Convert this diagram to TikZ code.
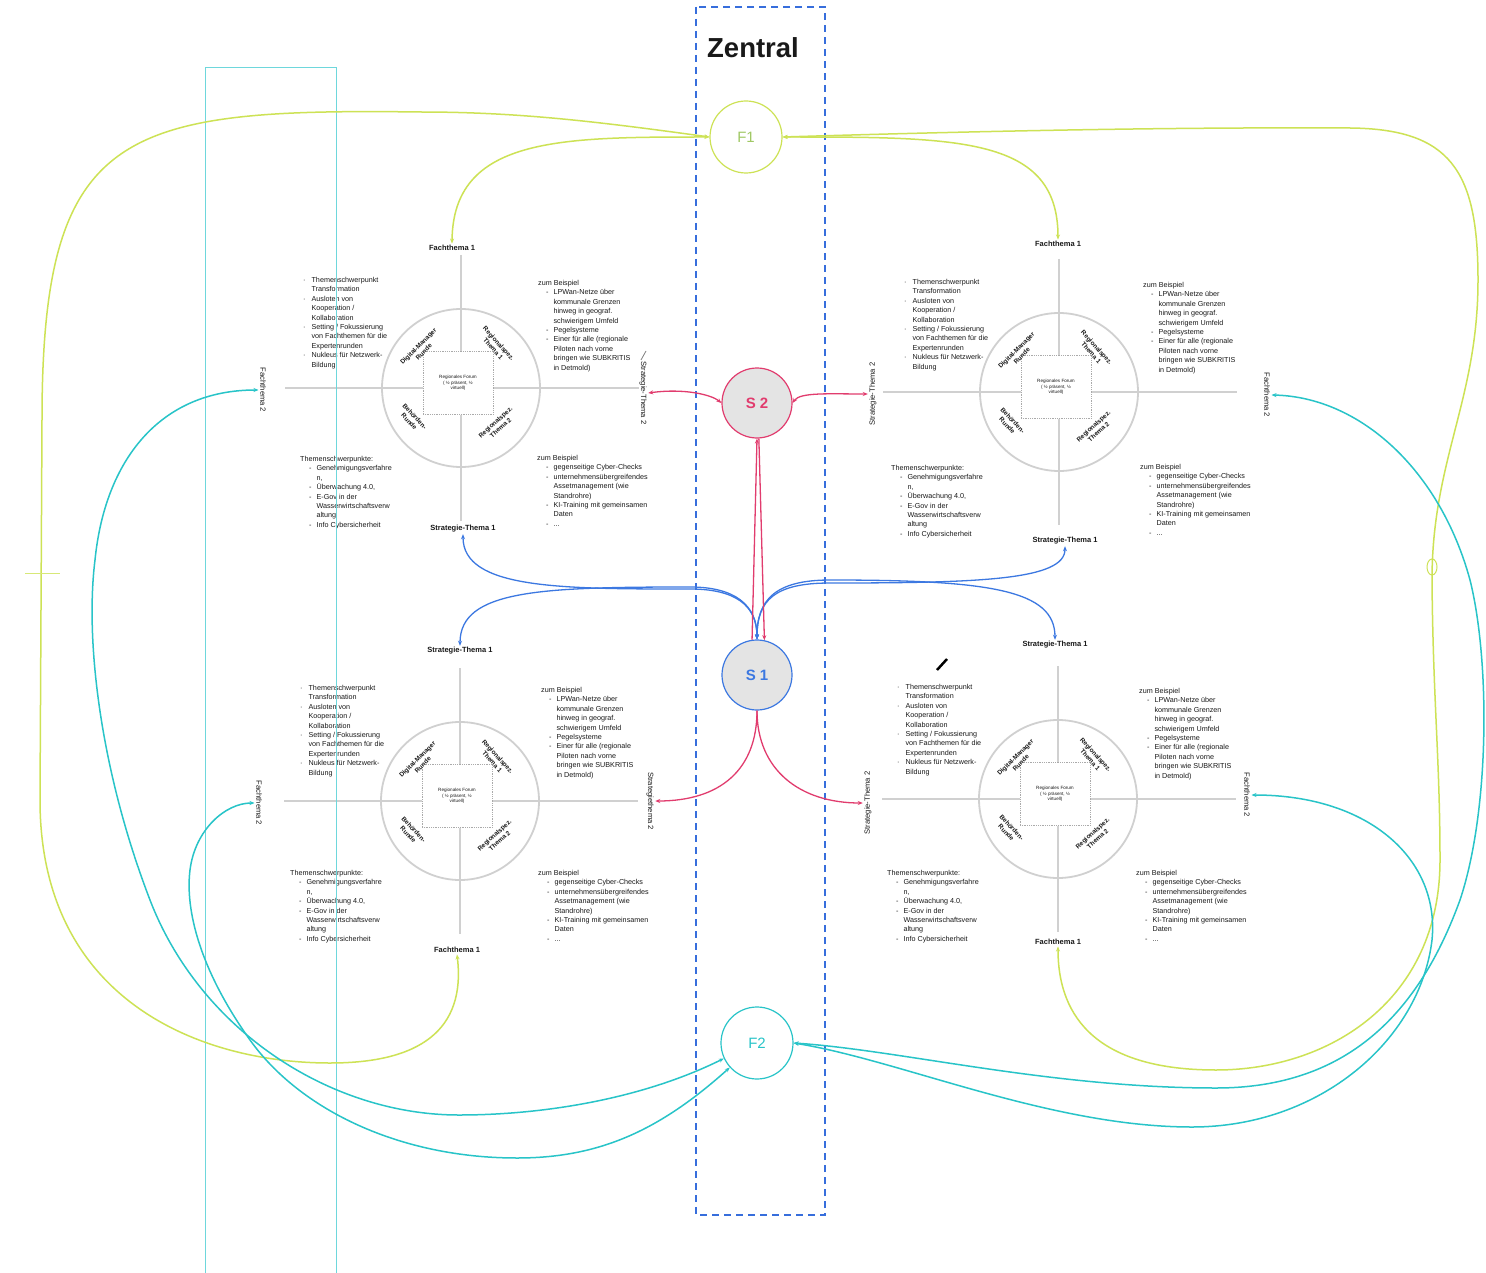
\documentclass[tikz,border=0pt]{standalone}
\usepackage{fontspec}
\setmainfont{Liberation Sans}
\usetikzlibrary{arrows.meta}
\definecolor{ygreen}{RGB}{205,226,85}
\definecolor{fonegreen}{RGB}{160,200,100}
\definecolor{cyanc}{RGB}{40,196,200}
\definecolor{cyanlight}{RGB}{110,215,220}
\definecolor{bluec}{RGB}{60,120,225}
\definecolor{pinkc}{RGB}{225,60,110}
\definecolor{axisgray}{RGB}{208,208,208}
\definecolor{boxgray}{RGB}{170,170,170}
\definecolor{sfill}{RGB}{228,228,228}
\definecolor{zentralblue}{RGB}{55,110,220}
\definecolor{txtc}{RGB}{25,25,25}

\newcommand\blockA{\begin{tabular}[t]{@{}l@{\hspace{6pt}}l@{}}
· & Themenschwerpunkt\\
 & Transformation\\
· & Ausloten von\\
 & Kooperation /\\
 & Kollaboration\\
· & Setting / Fokussierung\\
 & von Fachthemen für die\\
 & Expertenrunden\\
· & Nukleus für Netzwerk-\\
 & Bildung
\end{tabular}}
\newcommand\blockB{\begin{tabular}[t]{@{\hspace{8pt}}l@{\hspace{5pt}}l@{}}
\multicolumn{2}{@{}l@{}}{zum Beispiel}\\
- & LPWan-Netze über\\
 & kommunale Grenzen\\
 & hinweg in geograf.\\
 & schwierigem Umfeld\\
- & Pegelsysteme\\
- & Einer für alle (regionale\\
 & Piloten nach vorne\\
 & bringen wie SUBKRITIS\\
 & in Detmold)
\end{tabular}}
\newcommand\blockC{\begin{tabular}[t]{@{\hspace{9pt}}l@{\hspace{5pt}}l@{}}
\multicolumn{2}{@{}l@{}}{Themenschwerpunkte:}\\
- & Genehmigungsverfahre\\
 & n,\\
- & Überwachung 4.0,\\
- & E-Gov in der\\
 & Wasserwirtschaftsverw\\
 & altung\\
- & Info Cybersicherheit
\end{tabular}}
\newcommand\blockD{\begin{tabular}[t]{@{\hspace{9pt}}l@{\hspace{5pt}}l@{}}
\multicolumn{2}{@{}l@{}}{zum Beispiel}\\
- & gegenseitige Cyber-Checks\\
- & unternehmensübergreifendes\\
 & Assetmanagement (wie\\
 & Standrohre)\\
- & KI-Training mit gemeinsamen\\
 & Daten\\
- & ...
\end{tabular}}

\newcommand\quadrantbox[3]{%
\begin{scope}[shift={(#2,#3)}]
 \draw[axisline] (0,-133) -- (0,-37);
 \draw[axisline] (0,27) -- (0,133);
 \draw[axisline] (-176,0) -- (-38,0);
 \draw[axisline] (32,0) -- (178,0);
 \node[ringstyle] (#1-ring) at (0,0) {};
 \node[forumstyle] (#1-forum) at (-3,-5) {Regionales Forum\\( ½ präsent, ½\\virtuell)};
 \node[innerlbl,rotate=45] (#1-dm) at (-40,-39) {Digital-Manager\\Runde};
 \node[innerlbl,rotate=-48] (#1-rt1) at (35,-42) {Regionalspez.\\Thema 1};
 \node[innerlbl,rotate=-47] (#1-beh) at (-49,31) {Behörden-\\Runde};
 \node[innerlbl,rotate=42] (#1-rt2) at (37,37) {Regionalspez.\\Thema 2};
\end{scope}}

\tikzset{
 axisline/.style={draw=axisgray, line width=2pt},
 ringstyle/.style={circle, draw=axisgray, line width=1.8pt, minimum size=158pt, inner sep=0pt},
 forumstyle/.style={draw=boxgray, densely dotted, line width=0.8pt, minimum width=70pt, minimum height=63pt, align=center, font=\fontsize{4.6}{5.7}\selectfont, text=txtc, inner sep=1pt},
 innerlbl/.style={align=center, font=\bfseries\fontsize{6.4}{7.6}\selectfont, text=txtc, inner sep=0pt},
 lbl/.style={font=\bfseries\fontsize{7.5}{8.5}\selectfont, text=txtc, inner sep=1.5pt},
 rlbl/.style={font=\fontsize{7.6}{8.5}\selectfont, text=txtc, inner sep=1.5pt},
 txtblock/.style={anchor=base west, inner sep=0pt, font=\fontsize{7.2}{9.4}\selectfont, text=txtc},
 fnode/.style={circle, minimum size=72pt, inner sep=0pt, line width=1.2pt, fill=white, font=\fontsize{15}{15}\selectfont},
 snode/.style={circle, minimum size=70pt, inner sep=0pt, line width=1.2pt, fill=sfill, font=\bfseries\fontsize{15}{15}\selectfont},
 yline/.style={draw=ygreen, line width=1.5pt},
 cline/.style={draw=cyanc, line width=1.5pt},
 bline/.style={draw=bluec, line width=1.3pt},
 pline/.style={draw=pinkc, line width=1.3pt},
 twoarrows/.style={{Stealth[length=5pt,width=4pt]}-{Stealth[length=5pt,width=4pt]}},
 endarrow/.style={-{Stealth[length=5pt,width=4pt]}},
}

\begin{document}
\begin{tikzpicture}[x=1pt,y=-1pt]
\fill[white] (0,0) rectangle (1486,1273);
\useasboundingbox (0,0) rectangle (1486,1273);

% quadrant structures
\quadrantbox{TL}{461}{388}
\quadrantbox{TR}{1059}{392}
\quadrantbox{BL}{460}{801}
\quadrantbox{BR}{1058}{799}

% axis labels
\node[lbl] (TL-top) at (452,248) {Fachthema 1};
\node[lbl] (TL-bot) at (463,529) {Strategie-Thema 1};
\node[rlbl,rotate=-90] (TL-left) at (263,390) {Fachthema 2};
\node[rlbl,rotate=-90] (TL-right) at (643,393) {Strategie-Thema 2};
\node[lbl] (TR-top) at (1058,244) {Fachthema 1};
\node[lbl] (TR-bot) at (1065,541) {Strategie-Thema 1};
\node[rlbl,rotate=90] (TR-left) at (873,394) {Strategie-Thema 2};
\node[rlbl,rotate=-90] (TR-right) at (1267,395) {Fachthema 2};
\node[lbl] (BL-top) at (460,651) {Strategie-Thema 1};
\node[lbl] (BL-bot) at (457,950) {Fachthema 1};
\node[rlbl,rotate=-90] (BL-left) at (259,803) {Fachthema 2};
\node[rlbl,rotate=-90] (BL-right) at (650,801) {Strategiethema 2};
\node[lbl] (BR-top) at (1055,645) {Strategie-Thema 1};
\node[lbl] (BR-bot) at (1058,942) {Fachthema 1};
\node[rlbl,rotate=90] (BR-left) at (868,803) {Strategie-Thema 2};
\node[rlbl,rotate=-90] (BR-right) at (1247,795) {Fachthema 2};

% text blocks
\node[txtblock] (TL-a) at (303,282.5) {\blockA};
\node[txtblock] (TL-b) at (538,285.5) {\blockB};
\node[txtblock] (TL-c) at (300,461.5) {\blockC};
\node[txtblock] (TL-d) at (537,460.5) {\blockD};
\node[txtblock] (TR-a) at (904,284.5) {\blockA};
\node[txtblock] (TR-b) at (1143,287.5) {\blockB};
\node[txtblock] (TR-c) at (891,470.5) {\blockC};
\node[txtblock] (TR-d) at (1140,469.5) {\blockD};
\node[txtblock] (BL-a) at (300,690.5) {\blockA};
\node[txtblock] (BL-b) at (541,692.5) {\blockB};
\node[txtblock] (BL-c) at (290,875.5) {\blockC};
\node[txtblock] (BL-d) at (538,875.5) {\blockD};
\node[txtblock] (BR-a) at (897,689.5) {\blockA};
\node[txtblock] (BR-b) at (1139,693.5) {\blockB};
\node[txtblock] (BR-c) at (887,875.5) {\blockC};
\node[txtblock] (BR-d) at (1136,875.5) {\blockD};

% small marks
\draw[gray, line width=0.8pt] (641,360) -- (646,351);
\draw[black, line width=2.5pt] (937,670) -- (947,659);

% cyan frame on the left
\draw[cyanlight, line width=1pt] (205,1273) -- (205,68) -- (336,68) -- (336,1273);

% central dashed region
\draw[zentralblue, line width=1.6pt, dash pattern=on 7pt off 5pt] (696,7) rectangle (825,1215);
\node[font=\bfseries\fontsize{27.5}{30}\selectfont, text=txtc] (zentral) at (753,48) {Zentral};

% central circles
\node[fnode, draw=ygreen, text=fonegreen] (F1) at (746,137) {F1};
\node[fnode, draw=cyanc, text=cyanc] (F2) at (757,1043) {F2};
\node[snode, draw=pinkc, text=pinkc] (S2) at (757,403) {S 2};
\node[snode, draw=bluec, text=bluec] (S1) at (757,675) {S 1};

% yellow connectors (F1)
\draw[yline,twoarrows] (F1.west) .. controls (560,137) and (453,137) .. (TL-top.north);
\draw[yline,twoarrows] (F1.west) .. controls (600,122) and (520,112) .. (420,112) .. controls (120,108) and (42,130) .. (42,420) -- (40,800) .. controls (40,1000) and (200,1063) .. (330,1063) .. controls (420,1063) and (466,1030) .. (BL-bot.south);
\draw[yline,twoarrows] (F1.east) .. controls (960,137) and (1058,137) .. (TR-top.north);
\draw[yline,twoarrows] (F1.east) .. controls (950,132) and (1150,127) .. (1350,128) .. controls (1450,129) and (1478,170) .. (1478,280) .. controls (1478,400) and (1432,460) .. (1432,580) .. controls (1433,700) and (1440,760) .. (1440,860) .. controls (1440,1000) and (1330,1070) .. (1216,1070) .. controls (1100,1070) and (1058,1020) .. (BR-bot.south);
\draw[ygreen!80, line width=1pt] (25,573) -- (60,573);
\draw[ygreen, line width=1pt] (1432,567) ellipse [x radius=5pt, y radius=8pt];

% cyan connectors (F2)
\draw[cline,twoarrows] (F2.205) .. controls (640,1100) and (540,1115) .. (459,1115) .. controls (330,1115) and (200,1030) .. (150,900) .. controls (100,770) and (85,640) .. (95,560) .. controls (105,460) and (160,390) .. (TL-left.south);
\draw[cline,twoarrows] (F2.222) .. controls (660,1130) and (600,1158) .. (517,1158) .. controls (400,1158) and (300,1110) .. (250,1040) .. controls (200,970) and (185,910) .. (190,870) .. controls (195,830) and (225,803) .. (BL-left.south);
\draw[cline,twoarrows] (F2.east) .. controls (900,1050) and (1050,1088) .. (1216,1088) .. controls (1350,1088) and (1420,1010) .. (1460,900) .. controls (1490,810) and (1490,660) .. (1470,580) .. controls (1440,470) and (1360,397) .. (TR-right.north);
\draw[cline,twoarrows] (F2.east) .. controls (900,1060) and (1050,1127) .. (1192,1127) .. controls (1320,1127) and (1420,1040) .. (1432,940) .. controls (1440,860) and (1370,795) .. (BR-right.north);

% blue connectors (S1)
\draw[bline,twoarrows] (S1.north) .. controls (757,605) and (735,589) .. (690,589) .. controls (560,589) and (463,589) .. (TL-bot.south);
\draw[bline,twoarrows] (S1.north) .. controls (757,605) and (735,587) .. (690,587) .. controls (540,587) and (460,590) .. (BL-top.north);
\draw[bline,twoarrows] (S1.north) .. controls (757,600) and (775,583) .. (830,583) .. controls (980,583) and (1065,580) .. (TR-bot.south);
\draw[bline,twoarrows] (S1.north) .. controls (757,600) and (775,580) .. (830,580) .. controls (990,580) and (1055,590) .. (BR-top.north);

% pink connectors (S2)
\draw[pline,twoarrows] (TL-right.north) .. controls (685,388) and (712,395) .. (S2.west);
\draw[pline,twoarrows] (S2.east) .. controls (800,392) and (830,394) .. (TR-left.north);
\draw[pline,endarrow] (S1.98) -- (S2.270);
\draw[pline,endarrow] (S2.273) -- (S1.78);
\draw[pline,endarrow] (S1.south) .. controls (757,770) and (720,801) .. (BL-right.north);
\draw[pline,endarrow] (S1.south) .. controls (757,770) and (800,803) .. (BR-left.north);
\end{tikzpicture}
\end{document}
